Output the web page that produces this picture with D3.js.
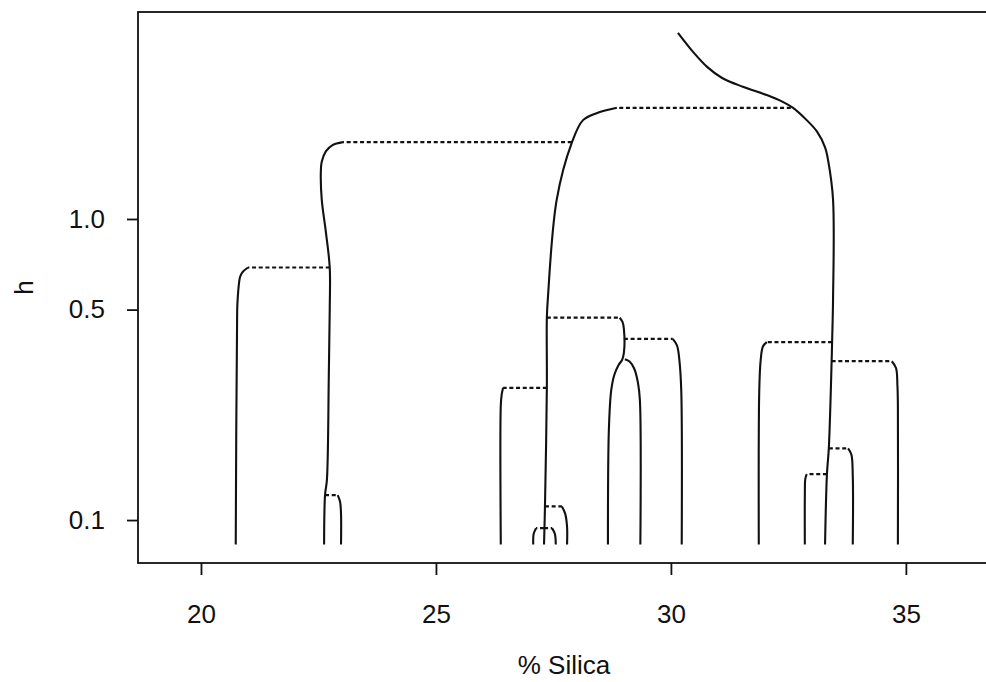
<!DOCTYPE html>
<html>
<head>
<meta charset="utf-8">
<script src="https://cdn.jsdelivr.net/npm/d3@7"></script>
<style>
  body { margin: 0; background: #fff; }
  svg { display: block; }
  text { font-family: "Liberation Sans", Arial, Helvetica, sans-serif; fill: #111; }
</style>
</head>
<body>
<div id="chart"></div>
<script>
// mode tree branches: [% silica, h] from the top of each branch down
const rootMode = [[30.15,4.15],[30.47,3.59],[30.77,3.20],[31.09,2.94],[31.53,2.75],[32.04,2.58],[32.38,2.45],[32.60,2.34],[32.89,2.13],[33.11,1.95],[33.28,1.73],[33.35,1.55],[33.45,1.16],[33.45,0.54],[33.43,0.39],[33.42,0.337],[33.36,0.173],[33.32,0.142],[33.28,0.083]]
const modeB = [[28.85,2.34],[28.43,2.25],[28.13,2.13],[27.89,1.79],[27.57,1.16],[27.38,0.54],[27.36,0.47],[27.36,0.275],[27.32,0.111],[27.30,0.083]]
const modeC = [[26.43,0.275],[26.40,0.262],[26.38,0.24],[26.38,0.083]]
const modeD = [[23.02,1.80],[22.80,1.76],[22.66,1.68],[22.57,1.55],[22.55,1.42],[22.57,1.16],[22.66,0.9],[22.74,0.69],[22.74,0.5],[22.72,0.3],[22.68,0.136],[22.64,0.121],[22.62,0.083]]
const modeE = [[21.00,0.69],[20.88,0.665],[20.83,0.64],[20.78,0.54],[20.77,0.49],[20.74,0.083]]
const modeF = [[22.91,0.121],[22.96,0.115],[22.98,0.105],[22.98,0.083]]
const modeG = [[27.68,0.111],[27.75,0.105],[27.79,0.095],[27.79,0.083]]
const modeH = [[27.13,0.094],[27.08,0.09],[27.07,0.083]]
const modeI = [[27.47,0.094],[27.53,0.09],[27.55,0.083]]
const modeJ = [[28.91,0.47],[28.97,0.455],[29.00,0.43],[29.00,0.36],[28.96,0.34],[28.89,0.328],[28.80,0.305],[28.73,0.27],[28.68,0.20],[28.66,0.083]]
const modeK = [[29.02,0.342],[29.12,0.336],[29.22,0.318],[29.30,0.285],[29.34,0.25],[29.35,0.083]]
const modeL = [[30.04,0.40],[30.13,0.38],[30.18,0.34],[30.22,0.27],[30.23,0.083]]
const modeM = [[32.04,0.39],[31.96,0.378],[31.91,0.34],[31.88,0.27],[31.87,0.083]]
const modeN = [[34.70,0.337],[34.79,0.32],[34.82,0.28],[34.83,0.24],[34.83,0.083]]
const modeO = [[33.77,0.173],[33.84,0.165],[33.87,0.14],[33.87,0.083]]
const modeP = [[32.89,0.142],[32.86,0.137],[32.85,0.12],[32.85,0.083]]

// dotted links where a new mode appears: [h, parent x, child x]
const splits = [
    [2.34, 32.55, 28.85],
    [1.80, 27.89, 23.02],
    [0.69, 22.74, 21.00],
    [0.121, 22.64, 22.91],
    [0.275, 27.36, 26.43],
    [0.47, 27.36, 28.91],
    [0.40, 29.00, 30.04],
    [0.111, 27.32, 27.68],
    [0.094, 27.30, 27.13],
    [0.094, 27.30, 27.47],
    [0.39, 33.43, 32.04],
    [0.337, 33.42, 34.70],
    [0.173, 33.36, 33.77],
    [0.142, 33.32, 32.89]
]

const xTicks = [20, 25, 30, 35]
const yTicks = [0.1, 0.5, 1.0]

const width = 986
const height = 682
const margin = { top: 12, right: -4, bottom: 119, left: 138 }

const svg = d3.select("#chart")
    .append("svg")
    .attr("width", width)
    .attr("height", height)

const x = d3.scaleLinear()
    .domain([18.66, 36.79])
    .range([margin.left, width - margin.right])

const y = d3.scaleLog()
    .domain([0.072, 4.87])
    .range([height - margin.bottom, margin.top])

const branches = [rootMode, modeB, modeC, modeD, modeE, modeF, modeG, modeH, modeI, modeJ, modeK, modeL, modeM, modeN, modeO, modeP]

const line = d3.line()
    .x(d => x(d[0]))
    .y(d => y(d[1]))
    .curve(d3.curveCatmullRom.alpha(0.5))

svg.selectAll(".split")
    .data(splits)
    .enter()
    .append("line")
    .attr("class", "split")
    .attr("x1", d => x(d[1]))
    .attr("x2", d => x(d[2]))
    .attr("y1", d => y(d[0]))
    .attr("y2", d => y(d[0]))
    .attr("stroke", "#111")
    .attr("stroke-width", 2.2)
    .attr("stroke-dasharray", "4,2.7")

svg.selectAll(".branch")
    .data(branches)
    .enter()
    .append("path")
    .attr("class", "branch")
    .attr("d", line)
    .attr("fill", "none")
    .attr("stroke", "#111")
    .attr("stroke-width", 2.1)
    .attr("stroke-linejoin", "round")

// plot box
svg.append("rect")
    .attr("x", margin.left)
    .attr("y", margin.top)
    .attr("width", width - margin.right - margin.left)
    .attr("height", height - margin.bottom - margin.top)
    .attr("fill", "none")
    .attr("stroke", "#111")
    .attr("stroke-width", 1.8)

const xAxis = svg.append("g")
    .attr("transform", `translate(0,${height - margin.bottom})`)
    .call(d3.axisBottom(x).tickValues(xTicks).tickSize(12).tickPadding(30))
xAxis.select(".domain").remove()

const yAxis = svg.append("g")
    .attr("transform", `translate(${margin.left},0)`)
    .call(d3.axisLeft(y).tickValues(yTicks).tickFormat(d3.format(".1f")).tickSize(11).tickPadding(22))
yAxis.select(".domain").remove()

svg.selectAll(".tick line").attr("stroke", "#111").attr("stroke-width", 1.8)
svg.selectAll(".tick text")
    .attr("font-family", "Liberation Sans, Arial, sans-serif")
    .attr("font-size", "26px")
    .attr("fill", "#111")

svg.append("text")
    .attr("x", (margin.left + width - margin.right) / 2)
    .attr("y", 674)
    .attr("text-anchor", "middle")
    .attr("font-size", "26px")
    .text("% Silica")

svg.append("text")
    .attr("transform", `translate(33,${(margin.top + height - margin.bottom) / 2}) rotate(-90)`)
    .attr("text-anchor", "middle")
    .attr("font-size", "26px")
    .text("h")
</script>
</body>
</html>
